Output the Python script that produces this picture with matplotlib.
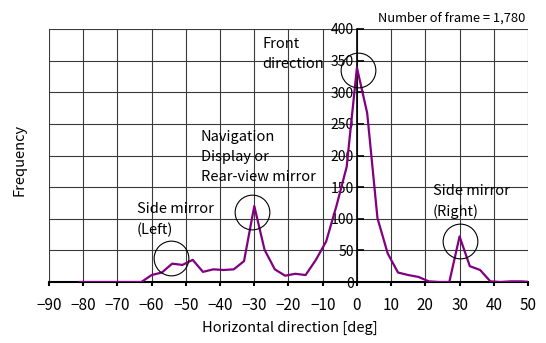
import matplotlib
matplotlib.use("Agg")
import matplotlib.pyplot as plt
import numpy as np

plt.rcParams['font.family'] = ['Noto Sans CJK JP', 'DejaVu Sans']

angles = list(range(-81, 52, 3))
freq = [0, 0, 0, 0, 0, 0, 0, 11, 15, 29, 27, 35, 16, 20, 19, 20, 33, 120, 51, 20,
        10, 13, 11, 35, 64, 120, 182, 339, 267, 101, 45, 15, 11, 8, 1, 0, 0, 72, 25, 19,
        1, 0, 1, 1, 0]

circle_x = [0.2, -30.8, -54.2, 30.0]
circle_y = [335, 111, 38, 65]

x_ticks = list(range(-90, 51, 10))
y_ticks = list(range(0, 401, 50))

fig = plt.figure(figsize=(5.46, 3.43), dpi=100)
ax = fig.add_axes([49/546, 61/343, 479/546, 253/343])
ax.set_xlim(-90, 50)
ax.set_ylim(0, 400)

ax.set_xticks(x_ticks)
ax.set_yticks(y_ticks)
ax.set_xticklabels([f"{v}".replace('-', '\u2212') for v in x_ticks], fontsize=11)
ax.set_yticklabels([str(v) for v in y_ticks], fontsize=12)

ax.grid(True, color='#3a3a3a', linewidth=0.8)
ax.set_axisbelow(True)

ax.spines['left'].set_position(('data', 0))
ax.spines['top'].set_visible(False)
ax.spines['right'].set_visible(False)
ax.spines['left'].set_linewidth(1.2)
ax.spines['bottom'].set_linewidth(1.5)
ax.tick_params(axis='y', direction='in', length=5, width=1.2, pad=2)
ax.tick_params(axis='x', direction='out', length=3, width=1.5, pad=8)

ax.plot(angles, freq, color='#800080', linewidth=1.6, zorder=3)
ax.plot(circle_x, circle_y, 'o', mfc='none', mec='black', ms=25, mew=0.8, zorder=4)

fig.text(20/546, 1 - 160/343, "Frequency", rotation=90, ha='center', va='center', fontsize=10.5)
fig.text(290/546, 1 - 328/343, "Horizontal direction [deg]", ha='center', va='center', fontsize=10.5)
fig.text(452/546, 1 - 18/343, "Number of frame = 1,780", ha='center', va='center', fontsize=9.3)

ax.text(-27.6, 388, "Front\ndirection", ha='left', va='top', fontsize=10.5, linespacing=1.55)
ax.text(-45.7, 241, "Navigation\nDisplay or\nRear-view mirror", ha='left', va='top', fontsize=10.5, linespacing=1.55)
ax.text(-64.4, 126, "Side mirror\n(Left)", ha='left', va='top', fontsize=10.5, linespacing=1.55)
ax.text(22.2, 155, "Side mirror\n(Right)", ha='left', va='top', fontsize=10.5, linespacing=1.55)

fig.savefig("out.png", dpi=100)
